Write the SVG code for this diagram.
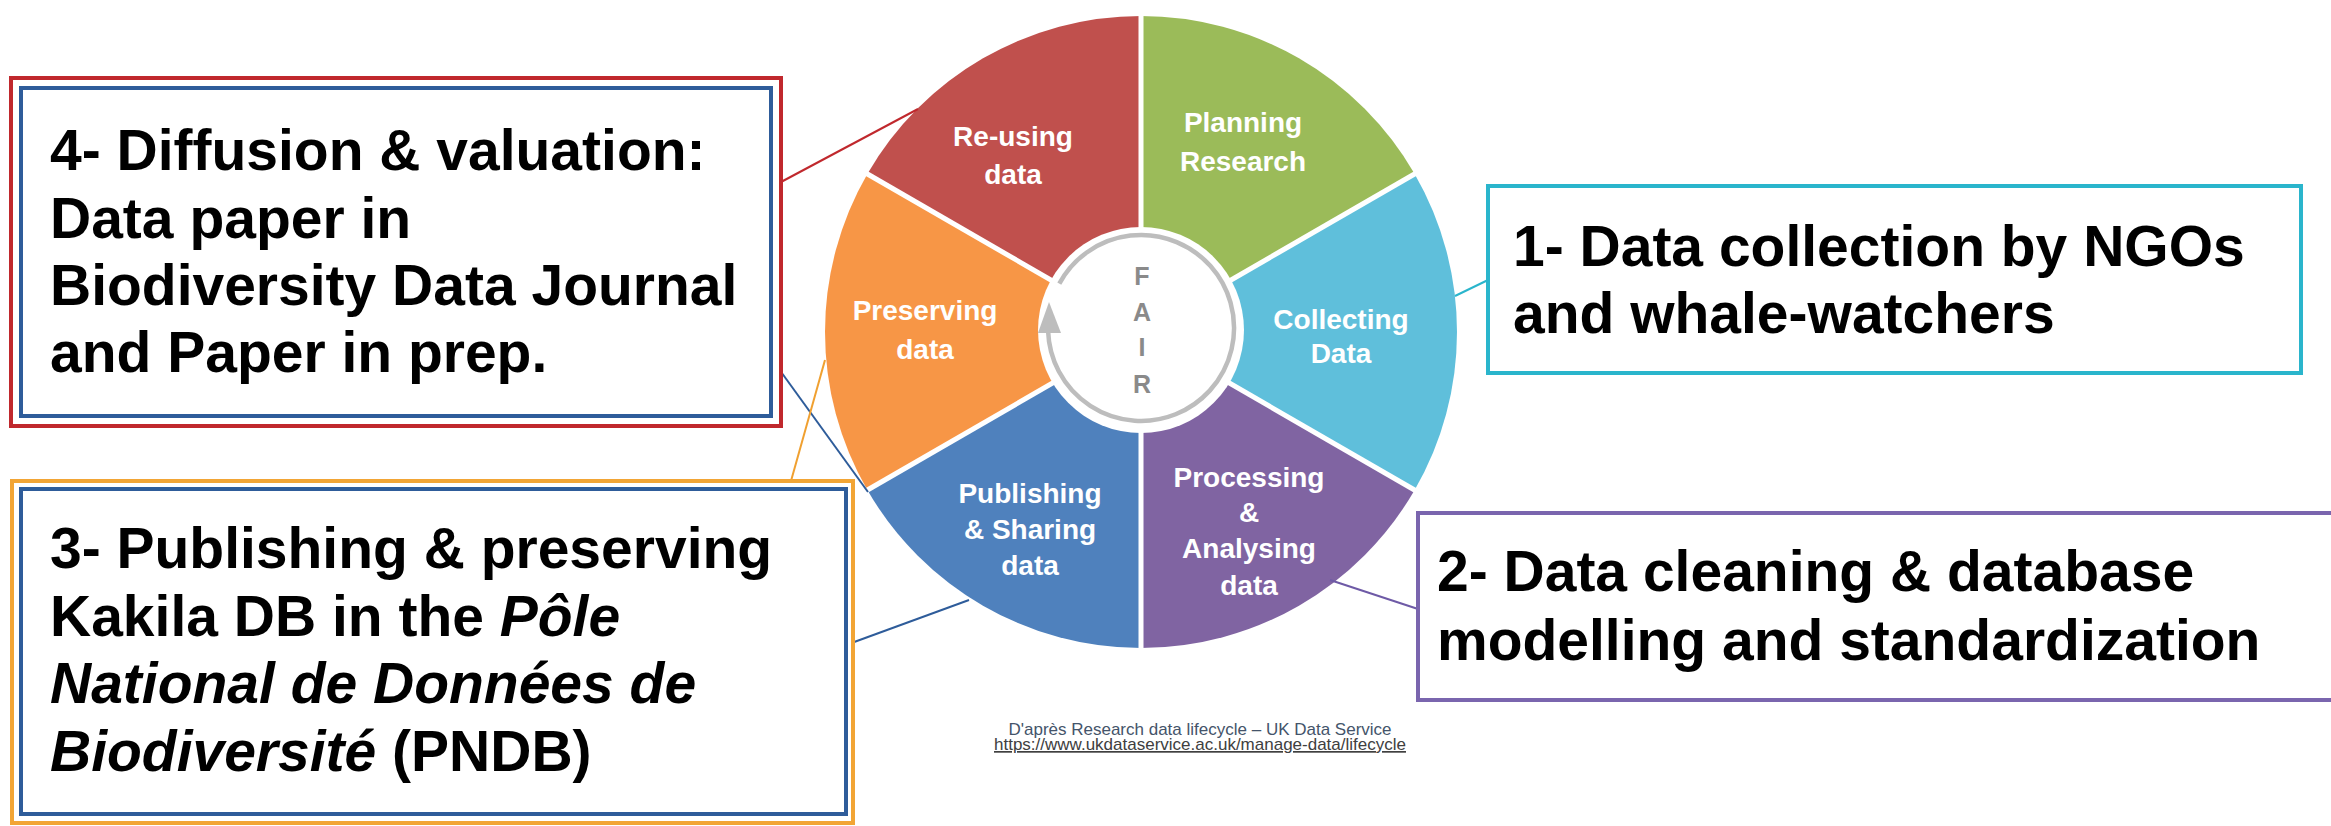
<svg xmlns="http://www.w3.org/2000/svg" width="2331" height="826" viewBox="0 0 2331 826">
<style>
.box{fill:#fff;stroke-width:4}
.bt{font-family:"Liberation Sans",Arial,sans-serif;font-weight:bold;font-size:57px;fill:#000}
.seg{font-family:"Liberation Sans",Arial,sans-serif;font-weight:bold;font-size:28px;fill:#fff;text-anchor:middle}
.fair{font-family:"Liberation Sans",Arial,sans-serif;font-weight:bold;font-size:25px;fill:#8a8a8a;text-anchor:middle}
.con{fill:none;stroke-width:2}
.div{stroke:#fff;stroke-width:5}
.foot{font-family:"Liberation Sans",Arial,sans-serif;font-size:17px;text-anchor:middle}
</style>
<rect width="2331" height="826" fill="#fff"/>

<g id="wheel">
  <path d="M1141,332 L1141,16 A316,316 0 0 1 1414.66,174 Z" fill="#9BBB59"/>
  <path d="M1141,332 L1414.66,174 A316,316 0 0 1 1414.66,490 Z" fill="#5FBFDB"/>
  <path d="M1141,332 L1414.66,490 A316,316 0 0 1 1141,648 Z" fill="#8064A2"/>
  <path d="M1141,332 L1141,648 A316,316 0 0 1 867.34,490 Z" fill="#4F81BD"/>
  <path d="M1141,332 L867.34,490 A316,316 0 0 1 867.34,174 Z" fill="#F79646"/>
  <path d="M1141,332 L867.34,174 A316,316 0 0 1 1141,16 Z" fill="#C0504D"/>
  <line class="div" x1="1141" y1="332" x2="1141" y2="12"/>
  <line class="div" x1="1141" y1="332" x2="1418" y2="172"/>
  <line class="div" x1="1141" y1="332" x2="1418" y2="492"/>
  <line class="div" x1="1141" y1="332" x2="1141" y2="652"/>
  <line class="div" x1="1141" y1="332" x2="864" y2="492"/>
  <line class="div" x1="1141" y1="332" x2="864" y2="172"/>
  <circle cx="1141" cy="330" r="103" fill="#fff"/>
  <path d="M1059.3,283.6 A93,93 0 1 1 1048.1,331.2" fill="none" stroke="#BDBDBD" stroke-width="4.5"/>
  <polygon points="1049,302 1038,333 1061,333" fill="#BDBDBD"/>
  <text class="fair" x="1142" y="285">F</text>
  <text class="fair" x="1142" y="321">A</text>
  <text class="fair" x="1142" y="356">I</text>
  <text class="fair" x="1142" y="393">R</text>
</g>

<g id="seg-reusing"><text class="seg" x="1013" y="146">Re-using</text><text class="seg" x="1013" y="184">data</text></g>
<g id="seg-planning"><text class="seg" x="1243" y="132">Planning</text><text class="seg" x="1243" y="171">Research</text></g>
<g id="seg-collecting"><text class="seg" x="1341" y="329">Collecting</text><text class="seg" x="1341" y="363">Data</text></g>
<g id="seg-processing"><text class="seg" x="1249" y="487">Processing</text><text class="seg" x="1249" y="522">&amp;</text><text class="seg" x="1249" y="558">Analysing</text><text class="seg" x="1249" y="595">data</text></g>
<g id="seg-publishing"><text class="seg" x="1030" y="503">Publishing</text><text class="seg" x="1030" y="539">&amp; Sharing</text><text class="seg" x="1030" y="575">data</text></g>
<g id="seg-preserving"><text class="seg" x="925" y="320">Preserving</text><text class="seg" x="925" y="359">data</text></g>

<g id="connectors">
  <line class="con" x1="781" y1="182" x2="918" y2="109" stroke="#C0282D"/>
  <line class="con" x1="771" y1="358" x2="868" y2="492" stroke="#2E5C9A"/>
  <line class="con" x1="791" y1="481" x2="825" y2="360" stroke="#F0A030"/>
  <line class="con" x1="846" y1="645" x2="969" y2="600" stroke="#2E5C9A"/>
  <line class="con" x1="1455" y1="296" x2="1488" y2="280" stroke="#2AB5CC" stroke-width="3"/>
  <line class="con" x1="1330" y1="580" x2="1418" y2="609" stroke="#6E5AA6"/>
</g>

<g id="box4">
  <rect class="box" x="11" y="78" width="770" height="348" stroke="#C0282D"/>
  <rect class="box" x="21" y="88" width="750" height="328" stroke="#2E5C9A"/>
  <text class="bt" x="50" y="170">4- Diffusion &amp; valuation:</text>
  <text class="bt" x="50" y="238">Data paper in</text>
  <text class="bt" x="50" y="305">Biodiversity Data Journal</text>
  <text class="bt" x="50" y="372">and Paper in prep.</text>
</g>

<g id="box3">
  <rect class="box" x="12" y="481" width="841" height="342" stroke="#F2A535"/>
  <rect class="box" x="21" y="489" width="825" height="325" stroke="#2E5C9A"/>
  <text class="bt" x="50" y="568">3- Publishing &amp; preserving</text>
  <text class="bt" x="50" y="636">Kakila DB in the <tspan font-style="italic">Pôle</tspan></text>
  <text class="bt" x="50" y="703" font-style="italic">National de Données de</text>
  <text class="bt" x="50" y="771"><tspan font-style="italic">Biodiversité</tspan> (PNDB)</text>
</g>

<g id="box1">
  <rect class="box" x="1488" y="186" width="813" height="187" stroke="#2AB5CC"/>
  <text class="bt" x="1513" y="266">1- Data collection by NGOs</text>
  <text class="bt" x="1513" y="333">and whale-watchers</text>
</g>

<g id="box2">
  <rect class="box" x="1418" y="513" width="1000" height="187" stroke="#7A65AE"/>
  <text class="bt" x="1437" y="591">2- Data cleaning &amp; database</text>
  <text class="bt" x="1437" y="660">modelling and standardization</text>
</g>

<g id="credit">
  <text class="foot" x="1200" y="735" fill="#44546A">D'après Research data lifecycle – UK Data Service</text>
  <text class="foot" x="1200" y="750" fill="#404040" text-decoration="underline">https://www.ukdataservice.ac.uk/manage-data/lifecycle</text>
</g>
</svg>
